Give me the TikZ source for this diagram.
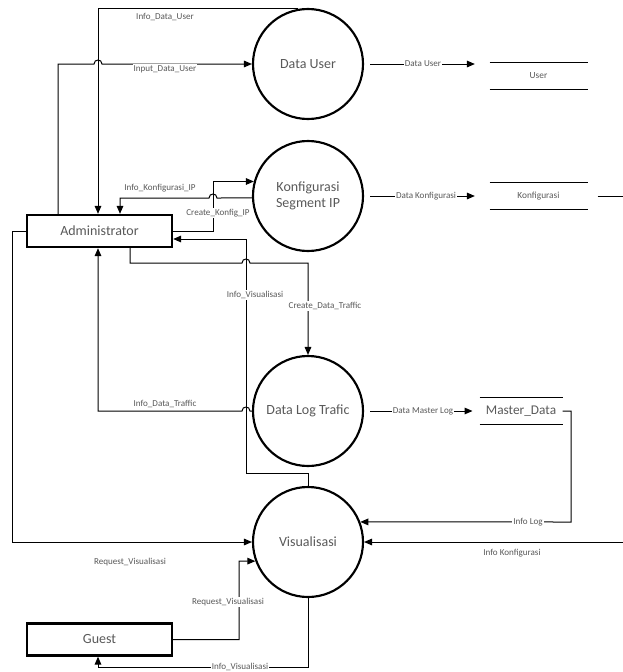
\documentclass[tikz,border=0pt]{standalone}
\usepackage{fontspec}
\setmainfont{Carlito}
\usetikzlibrary{arrows.meta}

\definecolor{txtgray}{RGB}{89,89,89}

\tikzset{every picture/.style={line width=0.75pt}}
\tikzset{
  proc/.style={circle,draw,line width=1.6pt,minimum size=82.5pt,inner sep=0pt,align=center,text=txtgray,font=\fontsize{10.5}{12.5}\selectfont},
  ent/.style={rectangle,draw,line width=1.8pt,minimum width=108.75pt,minimum height=24pt,text=txtgray,font=\fontsize{10.5}{12.5}\selectfont},
  store/.style={minimum width=72.75pt,minimum height=19.5pt,inner sep=0pt,text=txtgray,font=\fontsize{7}{8}\selectfont},
  storeline/.style={line width=1.1pt},
  flow/.style={-{Triangle[length=6pt,width=5pt]},line width=0.75pt},
  lbl/.style={fill=white,inner sep=0.75pt,text=txtgray,font=\fontsize{6.8}{8}\selectfont},
}

\begin{document}
\begin{tikzpicture}[x=0.75pt,y=0.75pt,yscale=-1,xscale=1]
\useasboundingbox (0,0) rectangle (623,672);

%Shape: Circle [processes]
\node[proc] (datauser) at (308,64) {Data User};
\node[proc] (konfig) at (308,196) {Konfigurasi\\Segment IP};
\node[proc] (datalog) at (308,411) {Data Log Trafic};
\node[proc] (visual) at (308,542) {Visualisasi};

%Shape: Rectangle [entities]
\node[ent] (admin) at (99.5,231) {Administrator};
\node[ent] (guest) at (99.5,639.5) {Guest};

%Shape: Data stores
\node[store] (user) at (538.5,76) {User};
\node[store] (konfigurasi) at (538.5,196) {Konfigurasi};
\node[store,minimum width=61.5pt,font=\fontsize{10}{12}\selectfont] (master) at (521,411) {Master\_Data};
\draw[storeline] (user.north west) -- (user.north east) (user.south west) -- (user.south east);
\draw[storeline] (konfigurasi.north west) -- (konfigurasi.north east) (konfigurasi.south west) -- (konfigurasi.south east);
\draw[storeline] (master.north west) -- (master.north east) (master.south west) -- (master.south east);

%lanes
\coordinate (lnA) at (58,0);
\coordinate (lnB) at (98,0);
\coordinate (lnC) at (213,0);
\coordinate (lnD) at (120,0);
\coordinate (lnE) at (130,0);
\coordinate (vA) at (246,239);

%Straight Lines [id:Input_Data_User]
\draw[flow] (admin.north -| lnA) -- (lnA |- datauser.west) -- (94,64) .. controls (94,58.7) and (102,58.7) .. (102,64) -- (datauser.west);
%Straight Lines [id:Info_Data_User]
\draw[flow] (datauser.100) -- (lnB |- datauser.100) -- (admin.north -| lnB);
%Straight Lines [id:Create_Konfig_IP]
\draw[flow] (admin.east) -- (lnC |- admin.east) -- (lnC |- konfig.165) -- (konfig.165);
%Straight Lines [id:Info_Konfigurasi_IP]
\draw[flow] (konfig.182) -- (217,198) .. controls (217,192.7) and (209,192.7) .. (209,198) -- (lnD |- 0,198) -- (admin.north -| lnD);
%Straight Lines [id:Info_Visualisasi admin]
\draw[flow] (visual.north) -- (308,473) -- (246,473) -- (vA) -- (vA -| admin.east);
%Straight Lines [id:Create_Data_Traffic]
\draw[flow] (admin.south -| lnE) -- (130,263) -- (242,263) .. controls (242,257.7) and (250,257.7) .. (250,263) -- (308,263) -- (datalog.north);
%Straight Lines [id:Info_Data_Traffic]
\draw[flow] (datalog.west) -- (250,411) .. controls (250,405.7) and (242,405.7) .. (242,411) -- (98,411) -- (admin.south -| lnB);
%Straight Lines [id:Request_Visualisasi admin]
\draw[flow] (admin.west) -- (12,231) -- (12,542) -- (visual.west);
%Straight Lines [id:Request_Visualisasi guest]
\draw[flow] (guest.east) -- (239,639.5) -- (239,561) -- (visual.200);
%Straight Lines [id:Info_Visualisasi guest]
\draw[flow] (visual.south) -- (308,667) -- (98,667) -- (guest.south -| lnB);
%Straight Lines [id:stores]
\draw[flow,shorten <=4.5pt,shorten >=11pt] (datauser.east) -- (datauser.east -| user.west);
\draw[flow,shorten <=4.5pt,shorten >=11pt] (konfig.east) -- (konfigurasi.west);
\draw[flow,shorten <=7.5pt] (konfigurasi.east) -- (640,196) -- (640,542) -- (visual.east);
\draw[flow,shorten <=4.5pt,shorten >=5.25pt] (datalog.east) -- (master.west);
\draw[flow] (master.east) -- (571,411) -- (571,522) -- (visual.21);

% Text Node
\node[lbl] (tInfoUser) at (165,17) {Info\_Data\_User};
\node[lbl] (tInputUser) at (165,69) {Input\_Data\_User};
\node[lbl] (tDataUser) at (423,64) {Data User};
\node[lbl] (tInfoKonf) at (160,188) {Info\_Konfigurasi\_IP};
\node[lbl] (tCreateKonf) at (218,213) {Create\_Konfig\_IP};
\node[lbl] (tDataKonf) at (426,196) {Data Konfigurasi};
\node[lbl] (tInfoVisA) at (255,295) {Info\_Visualisasi};
\node[lbl] (tCreateTraf) at (325,306) {Create\_Data\_Traffic};
\node[lbl] (tInfoTraf) at (165,404) {Info\_Data\_Traffic};
\node[lbl] (tDataMaster) at (423,411) {Data Master Log};
\node[lbl] (tInfoLog) at (528,522) {Info Log};
\node[lbl] (tReqA) at (130,562) {Request\_Visualisasi};
\node[lbl] (tInfoKonfB) at (512,553) {Info Konfigurasi};
\node[lbl] (tReqG) at (228,602) {Request\_Visualisasi};
\node[lbl] (tInfoVisG) at (240,666.5) {Info\_Visualisasi};

\end{tikzpicture}
\end{document}
